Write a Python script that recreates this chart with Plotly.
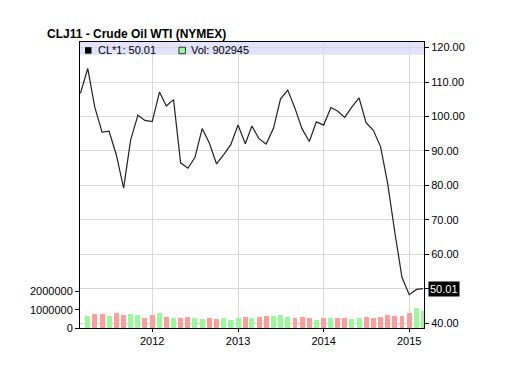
import plotly.graph_objects as go

# ---- data ----
price_dates = ["2011-03-01", "2011-04-01", "2011-05-01", "2011-06-01", "2011-07-01", "2011-08-01",
               "2011-09-01", "2011-10-01", "2011-11-01", "2011-12-01",
               "2012-01-01", "2012-02-01", "2012-03-01", "2012-04-01", "2012-05-01", "2012-06-01",
               "2012-07-01", "2012-08-01", "2012-09-01", "2012-10-01", "2012-11-01", "2012-12-01",
               "2013-01-01", "2013-02-01", "2013-03-01", "2013-04-01", "2013-05-01", "2013-06-01",
               "2013-07-01", "2013-08-01", "2013-09-01", "2013-10-01", "2013-11-01", "2013-12-01",
               "2014-01-01", "2014-02-01", "2014-03-01", "2014-04-01", "2014-05-01", "2014-06-01",
               "2014-07-01", "2014-08-01", "2014-09-01", "2014-10-01", "2014-11-01", "2014-12-01",
               "2015-01-01", "2015-02-01", "2015-03-01"]
price = [106.72, 113.93, 102.70, 95.42, 95.70, 88.81, 79.20, 93.19, 100.36, 98.83,
         98.48, 107.07, 103.02, 104.87, 86.53, 84.96, 88.06, 96.47, 92.19, 86.24, 88.91, 91.82,
         97.49, 92.05, 97.23, 93.46, 91.97, 96.56, 105.03, 107.65, 102.33, 96.38, 92.72, 98.42,
         97.49, 102.59, 101.58, 99.74, 102.71, 105.37, 98.17, 95.96, 91.16, 80.54, 66.15, 53.27,
         48.24, 49.76, 50.01]

vol_dates = price_dates[1:]
volume = [640000, 750000, 750000, 640000, 800000, 690000, 750000, 690000, 530000,
          690000, 800000, 600000, 570000, 570000, 620000, 570000, 510000, 570000, 510000, 570000, 460000,
          570000, 620000, 570000, 620000, 670000, 670000, 730000, 620000, 570000, 620000, 570000, 460000,
          570000, 570000, 570000, 570000, 510000, 570000, 620000, 570000, 620000, 730000, 670000, 670000,
          840000, 1110000, 902945]

year_ticks = ["2012-01-01", "2013-01-01", "2014-01-01", "2015-01-01"]
year_labels = ["2012", "2013", "2014", "2015"]
price_ticks = [40, 50, 60, 70, 80, 90, 100, 110, 120]
vol_ticks = [0, 1000000, 2000000]
vol_labels = ["0", "1000000", "2000000"]

last_price = price[-1]
last_vol = volume[-1]

UP = "#99fa99"
DOWN = "#ff9c9c"
bar_colors = [UP if price[i + 1] >= price[i] else DOWN for i in range(len(volume))]

# ---- layout geometry (pixels) ----
W, H = 527, 371
L, R, T, B = 80, 424.3, 42.3, 328.3
pw, ph = R - L, B - T


def px_x(p):
    return (p - L) / pw


def px_y(p):
    return (B - p) / ph


FONT = "Liberation Sans, Arial, sans-serif"

fig = go.Figure()
fig.add_trace(go.Bar(x=vol_dates, y=volume, marker=dict(color=bar_colors, line=dict(width=0)),
                     width=21 * 86400000, yaxis="y", showlegend=False, hoverinfo="skip"))
fig.add_trace(go.Scatter(x=price_dates, y=price, mode="lines", line=dict(color="#222222", width=1.2),
                         yaxis="y2", showlegend=False))

grid = "#d9d9d9"
fig.update_layout(
    width=W, height=H,
    margin=dict(l=L, r=W - R, t=T, b=H - B, pad=0),
    paper_bgcolor="white", plot_bgcolor="white",
    font=dict(family=FONT, size=11, color="black"),
    bargap=0,
    title=dict(text="<b>CLJ11 - Crude Oil WTI (NYMEX)</b>", x=47 / W, xanchor="left", xref="container",
               y=1 - 33.5 / H, yanchor="middle", yref="container",
               font=dict(family=FONT, size=12, color="black")),
    xaxis=dict(type="date", range=["2011-02-27", "2015-03-05"], tickvals=year_ticks, ticktext=year_labels,
               showgrid=True, gridcolor=grid, gridwidth=1, showline=True, linecolor="black", linewidth=1,
               mirror=True, ticks="outside", ticklen=3, tickcolor="black", zeroline=False,
               tickfont=dict(size=11)),
    yaxis=dict(range=[0, 15.63e6], tickvals=vol_ticks, ticktext=vol_labels, showgrid=False,
               showline=True, linecolor="black", linewidth=1, ticks="outside", ticklen=4,
               tickcolor="black", zeroline=False, side="left", tickfont=dict(size=11)),
    yaxis2=dict(range=[38.55, 121.62], tickvals=price_ticks, tickformat=".2f", overlaying="y",
                side="right", showgrid=True, gridcolor=grid, gridwidth=1, showline=True,
                linecolor="black", linewidth=1, ticks="outside", ticklen=4, tickcolor="black",
                zeroline=False, tickfont=dict(size=11)),
    hovermode=False,
)

# legend band
fig.add_shape(type="rect", xref="paper", yref="paper", x0=0, x1=1, y0=px_y(55), y1=1,
              fillcolor="#e2e2fb", line=dict(width=0), layer="below")
# legend squares
fig.add_shape(type="rect", xref="paper", yref="paper", x0=px_x(85), x1=px_x(91.5), y0=px_y(54),
              y1=px_y(47.5), fillcolor="black", line=dict(width=0))
fig.add_shape(type="rect", xref="paper", yref="paper", x0=px_x(179), x1=px_x(185.5), y0=px_y(54),
              y1=px_y(47.5), fillcolor=UP, line=dict(color="#333333", width=1))

fig.add_annotation(text=f"CL*1: {last_price:.2f}", xref="paper", yref="paper", x=px_x(96), y=px_y(50.5),
                   xanchor="left", yanchor="middle", showarrow=False, font=dict(size=11, color="black"))
fig.add_annotation(text=f"Vol: {last_vol}", xref="paper", yref="paper", x=px_x(189), y=px_y(50.5),
                   xanchor="left", yanchor="middle", showarrow=False, font=dict(size=11, color="black"))

# last value box on price axis
fig.add_annotation(text=f"{last_price:.2f}", xref="paper", yref="y2", x=px_x(428.5), y=last_price,
                   xanchor="left", yanchor="middle", showarrow=False, bgcolor="black", borderpad=1,
                   font=dict(size=11, color="white"))

fig.write_html("out.html")
